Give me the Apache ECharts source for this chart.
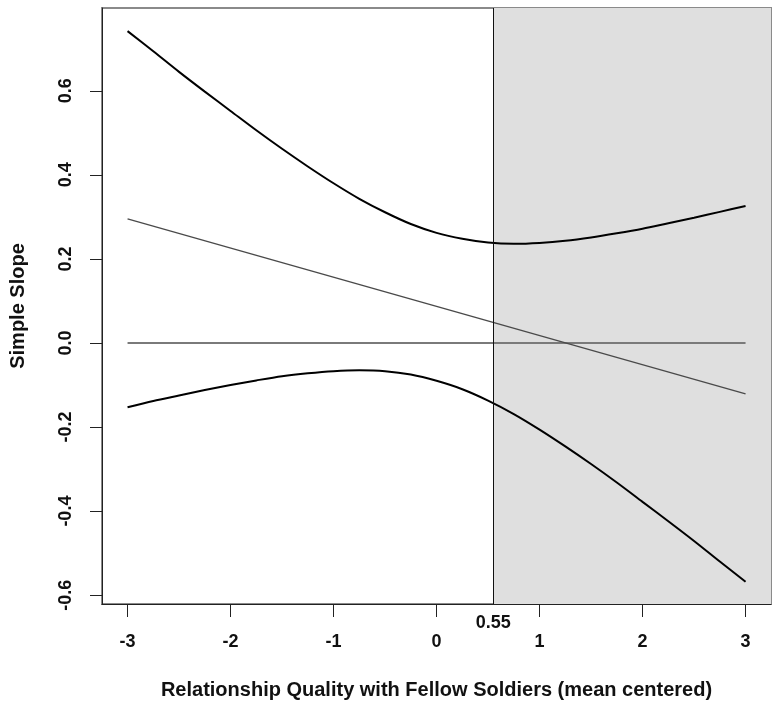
<!DOCTYPE html>
<html>
<head>
<meta charset="utf-8">
<script src="https://cdn.jsdelivr.net/npm/echarts@6/dist/echarts.min.js"></script>
<style>html,body{margin:0;padding:0;background:#fff;}#c{width:781px;height:711px;}</style>
</head>
<body>
<div id="c"></div>
<script>
// Moderator values (mean centered)
const xValues = [-3,-2.75,-2.5,-2.25,-2,-1.75,-1.5,-1.25,-1,-0.75,-0.5,-0.25,0,0.25,0.5,0.75,1,1.25,1.5,1.75,2,2.25,2.5,2.75,3];
// Upper confidence band of simple slope
const upperCI = [0.742,0.694,0.645,0.598,0.552,0.506,0.462,0.420,0.380,0.343,0.311,0.283,0.262,0.248,0.239,0.236,0.238,0.243,0.251,0.261,0.272,0.285,0.298,0.312,0.326];
// Lower confidence band of simple slope
const lowerCI = [-0.153,-0.138,-0.125,-0.112,-0.100,-0.089,-0.079,-0.072,-0.067,-0.065,-0.067,-0.075,-0.090,-0.110,-0.137,-0.169,-0.206,-0.246,-0.288,-0.332,-0.378,-0.424,-0.471,-0.520,-0.568];
// Simple slope line (endpoints)
const slopeX = [-3, 3];
const slopeY = [0.295, -0.121];
// Zero reference line
const zeroX = [-3, 3];
const zeroY = [0, 0];
// Johnson-Neyman point
const jnPoint = 0.55;
const xTicks = [-3,-2,-1,0,1,2,3];
const yTicks = [-0.6,-0.4,-0.2,0.0,0.2,0.4,0.6];
const xMin = -3.248, xMax = 3.247;
const yMin = -0.621, yMax = 0.797;

const zip = (a, b) => a.map((v, i) => [v, b[i]]);
const font = 'Liberation Sans, Arial, Helvetica, sans-serif';

const chart = echarts.init(document.getElementById('c'), null, {renderer: 'canvas'});
chart.setOption({
  animation: false,
  backgroundColor: '#ffffff',
  grid: {left: 101, right: 10, top: 8, bottom: 107, show: true, borderColor: '#8a8a8a', borderWidth: 2, backgroundColor: 'transparent'},
  xAxis: {
    type: 'value', min: xMin, max: xMax,
    name: 'Relationship Quality with Fellow Soldiers (mean centered)',
    nameLocation: 'middle', nameGap: 76,
    nameTextStyle: {fontFamily: font, fontWeight: 'bold', fontSize: 20, color: '#111'},
    splitLine: {show: false},
    axisLine: {show: true, onZero: false, lineStyle: {color: '#222', width: 1}},
    axisTick: {show: true, inside: false, length: 13, lineStyle: {color: '#222', width: 1}, customValues: xTicks},
    axisLabel: {show: true, margin: 29, fontFamily: font, fontWeight: 'bold', fontSize: 18, color: '#111', customValues: xTicks, formatter: v => String(v)}
  },
  yAxis: {
    type: 'value', min: yMin, max: yMax,
    name: 'Simple Slope',
    nameLocation: 'middle', nameGap: 74, nameRotate: 90,
    nameTextStyle: {fontFamily: font, fontWeight: 'bold', fontSize: 20, color: '#111'},
    splitLine: {show: false},
    axisLine: {show: true, onZero: false, lineStyle: {color: '#222', width: 1}},
    axisTick: {show: true, inside: false, length: 12, lineStyle: {color: '#222', width: 1}, customValues: yTicks},
    axisLabel: {show: true, rotate: 90, margin: 27, fontFamily: font, fontWeight: 'bold', fontSize: 18, color: '#111', customValues: yTicks, formatter: v => v.toFixed(1)}
  },
  series: [
    {
      type: 'line', data: zip(zeroX, zeroY), z: 1, symbol: 'none',
      lineStyle: {color: '#7a7a7a', width: 2},
      markArea: {silent: true, itemStyle: {color: '#dfdfdf'}, data: [[{xAxis: jnPoint}, {xAxis: xMax}]]},
      markLine: {silent: true, symbol: 'none', animation: false,
        lineStyle: {color: '#111', width: 1, type: 'solid'},
        label: {show: true, position: 'start', distance: 10, formatter: '0.55', fontFamily: font, fontWeight: 'bold', fontSize: 18, color: '#111'},
        data: [{xAxis: jnPoint}]}
    },
    {type: 'line', data: zip(slopeX, slopeY), z: 3, symbol: 'none', lineStyle: {color: '#4a4a4a', width: 1.3}},
    {type: 'line', data: zip(xValues, upperCI), z: 4, symbol: 'none', smooth: 0.3, lineStyle: {color: '#000', width: 2}},
    {type: 'line', data: zip(xValues, lowerCI), z: 4, symbol: 'none', smooth: 0.3, lineStyle: {color: '#000', width: 2}}
  ]
});
</script>
</body>
</html>
